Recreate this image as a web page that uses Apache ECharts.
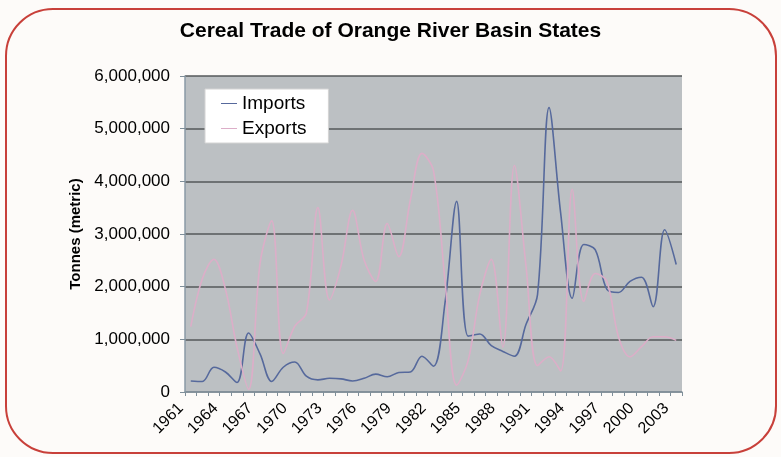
<!DOCTYPE html>
<html>
<head>
<meta charset="utf-8">
<script src="https://cdn.jsdelivr.net/npm/echarts@6/dist/echarts.min.js"></script>
<style>
  html, body { margin: 0; padding: 0; background: #fdfbf9; }
  #frame {
    position: absolute; left: 5px; top: 8px; width: 772px; height: 446px;
    border: 2px solid #c8403a; border-radius: 48px; box-sizing: border-box;
  }
  #chart { position: absolute; left: 0; top: 0; width: 781px; height: 457px; }
</style>
</head>
<body>
<div id="frame"></div>
<div id="chart"></div>
<script>
//年份
const years = [];
for (let y = 1961; y <= 2003; y++) years.push(String(y));

//进口（吨）
const imports = [
  210000, 200000, 470000, 380000, 180000, 1120000, 720000, 200000, 470000, 570000,
  300000, 230000, 260000, 250000, 210000, 260000, 340000, 290000, 370000, 380000,
  680000, 490000, 1700000, 3620000, 1060000, 1100000, 880000, 770000, 680000, 1280000,
  1850000, 5400000, 3400000, 1780000, 2800000, 2700000, 1950000, 1890000, 2100000, 2180000,
  1620000, 3080000, 2420000
];

//出口（吨）
const exports = [
  1240000, 2150000, 2520000, 1950000, 850000, 50000, 2450000, 3250000, 730000, 1250000,
  1500000, 3500000, 1750000, 2400000, 3450000, 2500000, 2100000, 3200000, 2570000, 3650000,
  4530000, 4200000, 2100000, 130000, 600000, 1850000, 2520000, 850000, 4300000, 2400000,
  500000, 670000, 400000, 3850000, 1720000, 2250000, 2100000, 1050000, 670000, 860000,
  1050000, 1050000, 980000
];

const chart = echarts.init(document.getElementById('chart'));
const font = 'Liberation Sans, Arial, sans-serif';

const option = {
  animation: false,
  title: {
    text: 'Cereal Trade of Orange River Basin States',
    left: 'center',
    top: 16,
    textStyle: { fontFamily: font, fontSize: 21, fontWeight: 'bold', color: '#000' }
  },
  legend: {
    left: 205,
    top: 89,
    orient: 'vertical',
    backgroundColor: '#ffffff',
    borderColor: '#d4d4d4',
    borderWidth: 1,
    padding: [5, 22, 5, 16],
    itemGap: 6,
    itemWidth: 16,
    itemHeight: 1,
    icon: 'rect',
    textStyle: { fontFamily: font, fontSize: 19, color: '#000' },
    data: ['Imports', 'Exports']
  },
  grid: {
    left: 185, right: 99, top: 76, bottom: 65,
    show: true, backgroundColor: '#bcc0c3', borderWidth: 0
  },
  xAxis: {
    type: 'category',
    data: years,
    boundaryGap: true,
    axisLine: { lineStyle: { color: '#8a9aa6', width: 1.5 } },
    axisTick: { show: true, interval: 0, length: 4, lineStyle: { color: '#7f8f9a' } },
    axisLabel: {
      interval: 2, rotate: 45, margin: 4,
      padding: [0, 14, 0, 0],
      fontFamily: font, fontSize: 16, color: '#000'
    },
    splitLine: { show: false }
  },
  yAxis: {
    type: 'value',
    min: 0, max: 6000000, interval: 1000000,
    name: 'Tonnes (metric)',
    nameLocation: 'middle',
    nameGap: 98,
    nameTextStyle: { fontFamily: font, fontSize: 15, fontWeight: 'bold', color: '#000' },
    axisLine: { show: true, lineStyle: { color: '#8a9aa6', width: 1.5 } },
    axisTick: { show: true, length: 5, lineStyle: { color: '#7f8f9a' } },
    axisLabel: {
      fontFamily: font, fontSize: 17, color: '#000', margin: 15,
      formatter: v => v.toLocaleString('en-US')
    },
    splitLine: { lineStyle: { color: '#55585a', width: 1.5 } }
  },
  series: [
    {
      name: 'Imports',
      type: 'line',
      data: imports,
      smooth: 0.35,
      symbol: 'none',
      itemStyle: { color: '#56699c' },
      lineStyle: { color: '#56699c', width: 1.6 }
    },
    {
      name: 'Exports',
      type: 'line',
      data: exports,
      smooth: 0.35,
      symbol: 'none',
      itemStyle: { color: '#dcaec8' },
      lineStyle: { color: '#dcaec8', width: 1.6 }
    }
  ]
};
chart.setOption(option);
</script>
</body>
</html>
